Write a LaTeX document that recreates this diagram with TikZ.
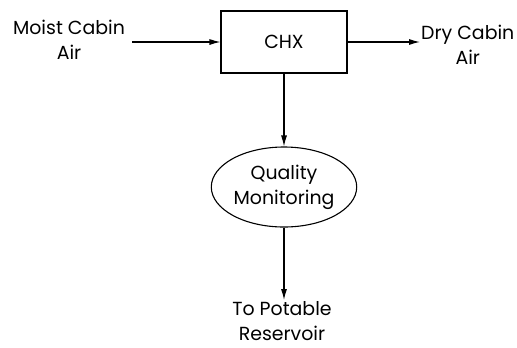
\documentclass[tikz,border=0pt]{standalone}
\usepackage{fontspec}
\setmainfont{Poppins}
\usetikzlibrary{arrows.meta,shapes.geometric}

\tikzset{
	flow/.style={-{Latex[length=11bp,width=6bp]}, line width=1.1bp},
	unit/.style={draw, line width=1.1bp, minimum width=126bp, minimum height=62bp},
	label/.style={align=center, font=\fontsize{19}{25}\selectfont, inner sep=1bp}
}

\begin{document}
\begin{tikzpicture}[x=1bp,y=-1bp]
	\useasboundingbox (0,0) rectangle (517,347);
	\node[unit, label] (chx) at (284,42) {CHX};
	\node[ellipse, draw, line width=1.1bp, minimum width=145bp, minimum height=80bp, label] (qm) at (284,187) {Quality\\Monitoring};
	\node[label] (moist) at (69,40) {Moist Cabin\\Air};
	\node[label, anchor=west] (dry) at (420,45) {Dry Cabin\\Air};
	\node[label, anchor=north] (pot) at (282,300) {To Potable\\Reservoir};
	\draw[flow] ([xshift=6bp]moist.east |- chx.west) -- (chx.west);
	\draw[flow] (chx.east) -- (dry.west |- chx.east);
	\draw[flow] (chx.south) -- (qm.north);
	\draw[flow] (qm.south) -- (qm.south |- pot.north);
\end{tikzpicture}
\end{document}
